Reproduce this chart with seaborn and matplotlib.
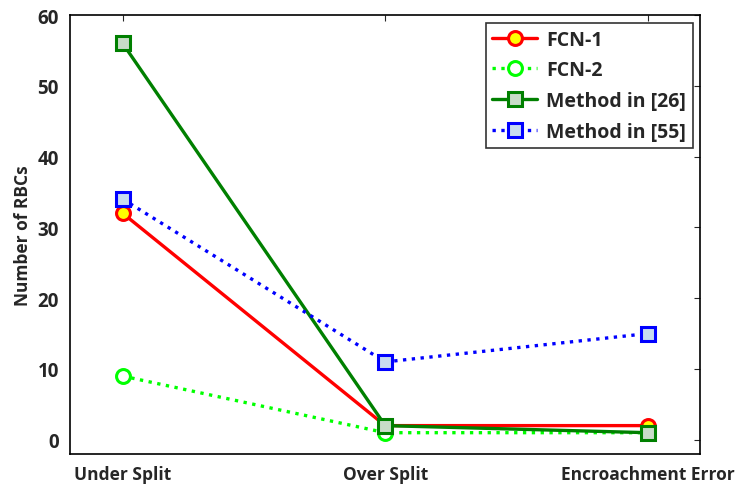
import matplotlib
matplotlib.use("Agg")
import matplotlib.pyplot as plt
import seaborn as sns
import pandas as pd

categories = ["Under Split", "Over Split", "Encroachment Error"]
fcn1 = [32, 2, 2]
fcn2 = [9, 1, 1]
method26 = [56, 2, 1]
method55 = [34, 11, 15]

series = {
    "FCN-1": fcn1,
    "FCN-2": fcn2,
    "Method in [26]": method26,
    "Method in [55]": method55,
}
styles = {
    "FCN-1": dict(color="#ff0000", ls="-", marker="o", mfc="#ffff00", mec="#ff0000"),
    "FCN-2": dict(color="#00ff00", ls=":", marker="o", mfc="white", mec="#00ff00"),
    "Method in [26]": dict(color="#008000", ls="-", marker="s", mfc="#c8dcc8", mec="#008000"),
    "Method in [55]": dict(color="#0000ff", ls=":", marker="s", mfc="#c8dcf0", mec="#0000ff"),
}

rows = []
for name, vals in series.items():
    for i, v in enumerate(vals):
        rows.append({"pos": i + 1, "value": v, "method": name})
df = pd.DataFrame(rows)

sns.set_style("white")
plt.rcParams["font.family"] = ["Open Sans", "DejaVu Sans"]
plt.rcParams["font.weight"] = "bold"

fig, ax = plt.subplots(figsize=(7.38, 4.85), dpi=100)
for name in series:
    st = styles[name]
    sub = df[df["method"] == name]
    sns.lineplot(data=sub, x="pos", y="value", ax=ax, label=name,
                 color=st["color"], linestyle=st["ls"], linewidth=2.4,
                 marker=st["marker"], markersize=10, markerfacecolor=st["mfc"],
                 markeredgecolor=st["mec"], markeredgewidth=2.2)

ax.set_xlim(0.8, 3.2)
ax.set_ylim(-2, 60)
ax.set_xticks([1, 2, 3])
ax.set_xticklabels(categories, fontsize=12.5, fontweight="bold")
ax.set_yticks(range(0, 61, 10))
ax.tick_params(axis="y", labelsize=13.5)
ax.tick_params(direction="in", length=4, top=True, right=True, width=0.8, pad=8)
for lab in ax.get_yticklabels():
    lab.set_fontweight("bold")
ax.set_xlabel("")
ax.set_ylabel("Number of RBCs", fontsize=12.5, fontweight="bold")
for sp in ax.spines.values():
    sp.set_color("black")
    sp.set_linewidth(1.2)

leg = ax.legend(loc="upper right", fontsize=14, frameon=True, fancybox=False,
                edgecolor="black", borderpad=0.35, handlelength=2.3,
                labelspacing=0.55, handletextpad=0.45, borderaxespad=0.4)
leg.get_frame().set_linewidth(1.2)
for t in leg.get_texts():
    t.set_fontweight("bold")

fig.subplots_adjust(left=0.095, right=0.949, top=0.967, bottom=0.062)
fig.savefig("out.png", dpi=100)
